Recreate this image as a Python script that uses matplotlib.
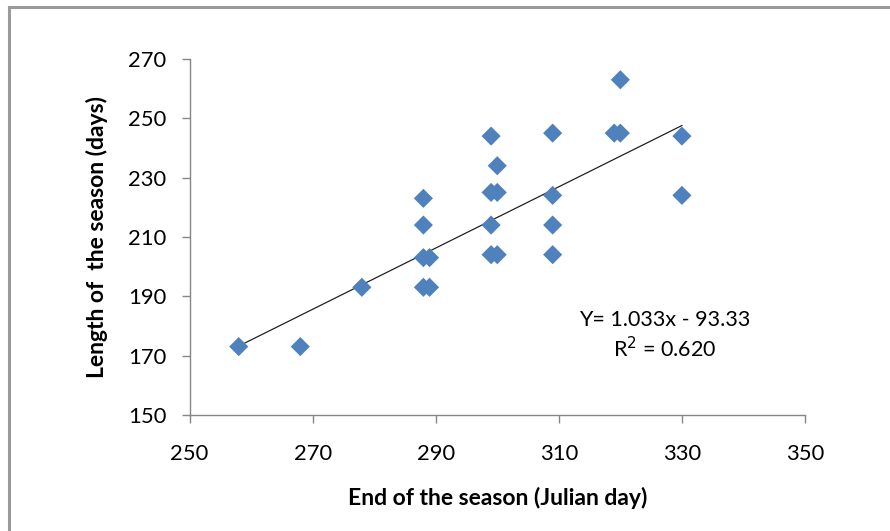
import matplotlib
matplotlib.use("Agg")
import matplotlib.pyplot as plt
from matplotlib.lines import Line2D
import numpy as np

plt.rcParams['font.family'] = ['Lato', 'DejaVu Sans']

# Data
end_of_season = [258, 268, 278, 288, 288, 288, 288, 289, 289,
                 299, 299, 299, 299, 300, 300, 300,
                 309, 309, 309, 309, 319, 320, 320, 330, 330]
season_length = [173, 173, 193, 223, 214, 203, 193, 203, 193,
                 244, 225, 214, 204, 234, 225, 204,
                 245, 224, 214, 204, 245, 245, 263, 244, 224]
slope = 1.033
intercept = -93.33
x_ticks = [250, 270, 290, 310, 330, 350]
y_ticks = [150, 170, 190, 210, 230, 250, 270]

W, H = 890, 531
fig = plt.figure(figsize=(W / 100, H / 100), dpi=100)
fig.patch.set_facecolor('white')

ax = fig.add_axes([189.5 / W, 1 - 414.8 / H, (805 - 189.5) / W, (414.8 - 59) / H])
ax.set_xlim(250, 350)
ax.set_ylim(150, 270)

ax.scatter(end_of_season, season_length, marker='D', s=95, color='#4F81BD',
           edgecolors='none', zorder=3)

xs = np.array([min(end_of_season), max(end_of_season)])
ax.plot(xs, slope * xs + intercept, color='#222222', lw=0.9, zorder=2)

ax.set_xticks(x_ticks)
ax.set_yticks(y_ticks)
ax.tick_params(axis='both', direction='out', length=5.8, width=1,
               color='#868686', labelsize=15.8, labelcolor='#000000')
ax.tick_params(axis='x', pad=15)
ax.tick_params(axis='y', pad=11)
for side in ['top', 'right']:
    ax.spines[side].set_visible(False)
for side in ['left', 'bottom']:
    ax.spines[side].set_color('#868686')
    ax.spines[side].set_linewidth(1)

ax.set_xlabel('End of the season (Julian day)', fontsize=16.5, fontweight='bold', labelpad=17)
ax.set_ylabel('Length of  the season (days)', fontsize=16.5, fontweight='bold', labelpad=14)

fig.text(665 / W, 1 - 320 / H, 'Y= 1.033x - 93.33', ha='center', va='center', fontsize=15.5)
fig.text(665 / W, 1 - 349 / H, 'R$^2$ = 0.620', ha='center', va='center', fontsize=15.5)

# outer chart border (only left and top visible)
fig.add_artist(Line2D([8.5 / W, 8.5 / W], [0, 1 - 7 / H], color='#9a9a9a', lw=2.2,
                      transform=fig.transFigure))
fig.add_artist(Line2D([8.5 / W, 1], [1 - 7 / H, 1 - 7 / H], color='#9a9a9a', lw=2.2,
                      transform=fig.transFigure))

fig.savefig('out.png', dpi=100)
